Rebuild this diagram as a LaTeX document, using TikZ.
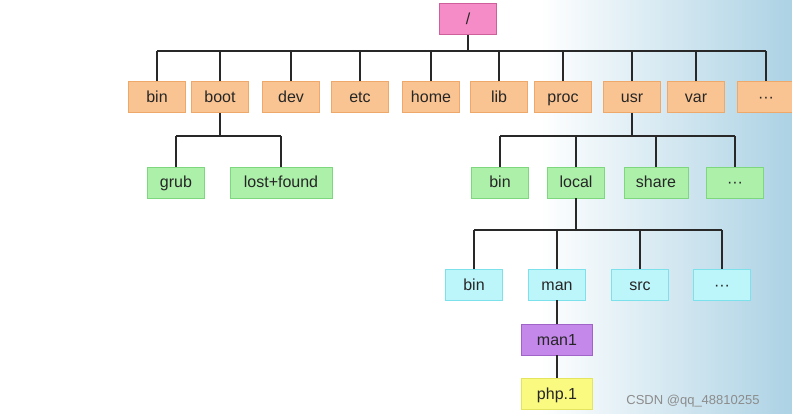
\documentclass[tikz,border=0pt]{standalone}
\usepackage{fontspec}
\setmainfont{Liberation Sans}
\usetikzlibrary{shadings}
\definecolor{rootfill}{RGB}{245,140,200}
\definecolor{rootline}{RGB}{205,95,155}
\definecolor{orafill}{RGB}{250,196,146}
\definecolor{oraline}{RGB}{238,168,105}
\definecolor{grnfill}{RGB}{172,240,170}
\definecolor{grnline}{RGB}{125,215,125}
\definecolor{cyafill}{RGB}{188,245,250}
\definecolor{cyaline}{RGB}{125,225,235}
\definecolor{purfill}{RGB}{196,136,235}
\definecolor{purline}{RGB}{160,100,200}
\definecolor{yelfill}{RGB}{250,250,128}
\definecolor{yelline}{RGB}{228,228,95}
\definecolor{bgblue}{RGB}{172,210,228}
\definecolor{wire}{RGB}{40,40,40}
\begin{document}
\begin{tikzpicture}[x=1pt, y=-1pt, line width=1.9pt,
    box/.style={draw, line width=0.8pt, minimum width=57pt, minimum height=31pt,
        inner sep=0pt, text height=13pt, text depth=2pt, text=black!85,
        font=\fontsize{16}{19}\selectfont},
    rootbox/.style={box, fill=rootfill, draw=rootline},
    l1/.style={box, fill=orafill, draw=oraline},
    l2/.style={box, fill=grnfill, draw=grnline},
    l3/.style={box, fill=cyafill, draw=cyaline},
    l4/.style={box, fill=purfill, draw=purline, minimum width=71pt},
    l5/.style={box, fill=yelfill, draw=yelline, minimum width=71pt}]
    \useasboundingbox (0,0) rectangle (792,414);

    % Background
    \shade[left color=white, right color=bgblue] (540,0) rectangle (792,414);

    % Root
    \node[rootbox] (root) at (468,19) {/};

    % First level
    \node[l1] (bin)  at (157,97) {bin};
    \node[l1] (boot) at (220,97) {boot};
    \node[l1] (dev)  at (291,97) {dev};
    \node[l1] (etc)  at (360,97) {etc};
    \node[l1] (home) at (431,97) {home};
    \node[l1] (lib)  at (499,97) {lib};
    \node[l1] (proc) at (563,97) {proc};
    \node[l1] (usr)  at (632,97) {usr};
    \node[l1] (var)  at (696,97) {var};
    \node[l1] (dots) at (766,97) {···};

    % Under boot and usr
    \node[l2] (grub)  at (176,182.5) {grub};
    \node[l2, minimum width=102pt] (lost) at (281,182.5) {lost+found};
    \node[l2] (ubin)  at (500,182.5) {bin};
    \node[l2] (local) at (576,182.5) {local};
    \node[l2, minimum width=64pt] (share) at (656,182.5) {share};
    \node[l2] (udots) at (735,182.5) {···};

    % Under local
    \node[l3] (lbin)  at (474,284.5) {bin};
    \node[l3] (man)   at (557,284.5) {man};
    \node[l3] (src)   at (640,284.5) {src};
    \node[l3] (ldots) at (722,284.5) {···};

    \node[l4] (man1) at (557,339.5) {man1};
    \node[l5] (php)  at (557,393.5) {php.1};

    % Buses
    \coordinate (bus0) at (0,51);
    \coordinate (bus1) at (0,136);
    \coordinate (bus2) at (0,230);

    \begin{scope}[draw=wire]
    \draw (root.south) -- (root.south |- bus0);
    \draw (bin.north |- bus0) -- (dots.north |- bus0);
    \foreach \n in {bin,boot,dev,etc,home,lib,proc,usr,var,dots}
        \draw (\n.north) -- (\n.north |- bus0);

    \draw (boot.south) -- (boot.south |- bus1);
    \draw (grub.north |- bus1) -- (lost.north |- bus1);
    \foreach \n in {grub,lost}
        \draw (\n.north) -- (\n.north |- bus1);

    \draw (usr.south) -- (usr.south |- bus1);
    \draw (ubin.north |- bus1) -- (udots.north |- bus1);
    \foreach \n in {ubin,local,share,udots}
        \draw (\n.north) -- (\n.north |- bus1);

    \draw (local.south) -- (local.south |- bus2);
    \draw (lbin.north |- bus2) -- (ldots.north |- bus2);
    \foreach \n in {lbin,man,src,ldots}
        \draw (\n.north) -- (\n.north |- bus2);

    \draw (man.south) -- (man1.north);
    \draw (man1.south) -- (php.north);
    \end{scope}

    % Watermark
    \node[text=black!45, font=\fontsize{13}{15}\selectfont] (mark) at (693,401) {CSDN @qq\_48810255};
\end{tikzpicture}
\end{document}
